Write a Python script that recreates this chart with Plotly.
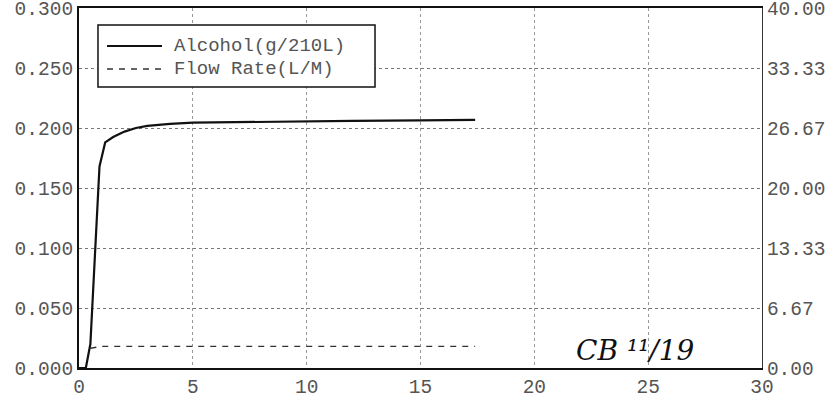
import plotly.graph_objects as go

# Data
time_alc = [0, 0.3, 0.5, 0.9, 1.15, 1.5, 2.0, 2.5, 3, 4, 5, 7, 10, 12, 15, 17.4]
alcohol = [0.0, 0.0, 0.02, 0.168, 0.188, 0.1925, 0.197, 0.2, 0.2017, 0.2035, 0.2044,
           0.205, 0.2055, 0.206, 0.2063, 0.2068]
time_flow = [0.5, 1, 2, 3, 4, 5, 6, 7, 8, 9, 10, 11, 12, 13, 14, 15, 16, 17.4]
flow = [2.2, 2.4, 2.4, 2.4, 2.4, 2.4, 2.4, 2.4, 2.4, 2.4, 2.4, 2.4, 2.4, 2.4, 2.4, 2.4, 2.4, 2.4]

x_ticks = [0, 5, 10, 15, 20, 25, 30]
left_ticks = [0, 0.05, 0.10, 0.15, 0.20, 0.25, 0.30]
right_ticks = [0, 6.67, 13.33, 20.0, 26.67, 33.33, 40.0]
right_labels = ["0.00", "6.67", "13.33", "20.00", "26.67", "33.33", "40.00"]
series_names = ["Alcohol(g/210L)", "Flow Rate(L/M)"]

FONT = "Liberation Mono"
TXT = "#555555"
TICK_SIZE = 19.5

fig = go.Figure()
fig.add_trace(go.Scatter(x=time_alc, y=alcohol, mode="lines", name=series_names[0],
                         line=dict(color="#111111", width=2.2), yaxis="y"))
fig.add_trace(go.Scatter(x=time_flow, y=flow, mode="lines", name=series_names[1],
                         line=dict(color="#333333", width=1.4, dash="6px,6px"), yaxis="y2"))

# Hand-drawn legend box (paper coordinates)
fig.add_shape(type="rect", xref="paper", yref="paper", x0=0.0278, x1=0.4334,
              y0=0.7806, y1=0.9528, line=dict(color="#111111", width=1.5),
              fillcolor="white", layer="above")
legend_rows = [0.8944, 0.8306]
legend_styles = [dict(color="#111111", width=2.2), dict(color="#333333", width=1.4, dash="6px,6px")]
for yy, st, nm in zip(legend_rows, legend_styles, series_names):
    fig.add_shape(type="line", xref="paper", yref="paper", x0=0.041, x1=0.1215,
                  y0=yy, y1=yy, line=st, layer="above")
    fig.add_annotation(x=0.1376, y=yy, xref="paper", yref="paper", text=nm,
                       showarrow=False, xanchor="left", yanchor="middle", borderpad=0,
                       font=dict(family=FONT, size=19, color=TXT))

fig.add_annotation(x=24.4, y=0.015, xref="x", yref="y", text="<i>CB ¹¹/19</i>",
                   showarrow=False, font=dict(family="DejaVu Serif", size=28, color="#111111"))

fig.update_layout(
    width=832, height=402,
    margin=dict(l=79, r=70, t=8, b=34, autoexpand=False),
    plot_bgcolor="white", paper_bgcolor="white",
    font=dict(family=FONT, size=TICK_SIZE, color=TXT),
    showlegend=False,
    xaxis=dict(range=[0, 30], tickvals=x_ticks, showgrid=True, gridcolor="#999999",
               griddash="dot", gridwidth=1, showline=True, linecolor="#111111",
               linewidth=2, mirror=True, ticks="", zeroline=False, automargin=False,
               ticklabeloverflow="allow",
               tickfont=dict(family=FONT, size=TICK_SIZE, color=TXT)),
    yaxis=dict(range=[0, 0.3], tickvals=left_ticks, tickformat=".3f", showgrid=True,
               gridcolor="#777777", griddash="dot", gridwidth=1, showline=True,
               linecolor="#111111", linewidth=2, ticks="", zeroline=False, automargin=False,
               ticklabeloverflow="allow",
               tickfont=dict(family=FONT, size=TICK_SIZE, color=TXT)),
    yaxis2=dict(range=[0, 40], tickvals=right_ticks, ticktext=right_labels,
                overlaying="y", side="right", showgrid=False, showline=True,
                linecolor="#333333", linewidth=1, ticks="", zeroline=False, automargin=False,
                ticklabeloverflow="allow",
                tickfont=dict(family=FONT, size=TICK_SIZE, color=TXT)),
)

fig.write_html("out.html", config={"displayModeBar": False},
               post_script="document.body.style.margin='0';")
